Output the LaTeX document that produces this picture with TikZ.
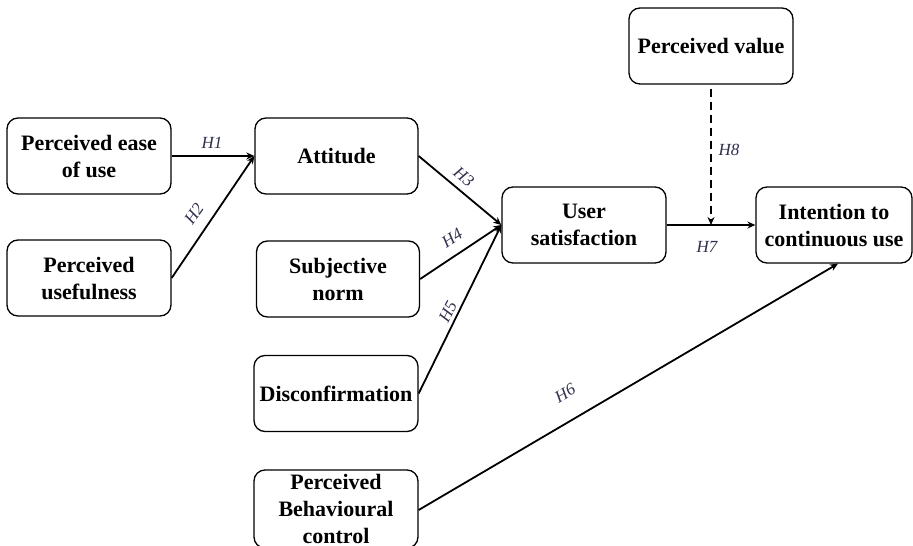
\documentclass[tikz,border=0pt]{standalone}
\usepackage{fontspec}
\setmainfont{Liberation Serif}
\usetikzlibrary{arrows.meta}
\definecolor{lab}{HTML}{2F2F4F}
\tikzset{
  box/.style={draw, line width=1.3pt, rounded corners=11pt, minimum width=164pt, minimum height=76pt,
    inner sep=0pt, align=center, font=\fontsize{22}{27}\selectfont\bfseries},
  conn/.style={line width=1.8pt, -{Stealth[length=8pt,width=7pt]}},
  hyp/.style={font=\fontsize{17}{20}\selectfont\itshape, text=lab, inner sep=0pt}
}
\begin{document}
\begin{tikzpicture}[x=1pt,y=-1pt]
\useasboundingbox (0,0) rectangle (913,546);
\node[box] (peou) at (89,156) {Perceived ease\\of use};
\node[box] (pu) at (89,278) {Perceived\\usefulness};
\node[box, minimum width=163pt] (att) at (336.5,156) {Attitude};
\node[box, minimum width=163pt] (sn) at (338,279) {Subjective\\norm};
\node[box] (dis) at (336,393.5) {Disconfirmation};
\node[box, minimum height=78pt] (pbc) at (336,509) {Perceived\\Behavioural\\control};
\node[box] (us) at (584,225) {User\\satisfaction};
\node[box] (pv) at (711,46) {Perceived value};
\node[box, minimum width=156pt] (itc) at (834,225) {Intention to\\continuous use};
\coordinate (mod) at (pv.south |- us.east);
\coordinate (itcin) at ([xshift=4pt]itc.south);
\draw[conn] (peou.east) -- (att.west);
\draw[conn] (pu.east) -- (att.west);
\draw[conn] (att.east) -- (us.west);
\draw[conn] (sn.east) -- (us.west);
\draw[conn] (dis.east) -- (us.west);
\draw[conn] ([yshift=-1pt]pbc.east) -- (itcin);
\draw[conn] (us.east) -- (itc.west);
\draw[conn, dash pattern=on 8pt off 5pt] ([yshift=-4pt]pv.south) -- (mod);
\node[hyp] (h1) at (212,143) {H1};
\node[hyp, rotate=55] (h2) at (194,214) {H2};
\node[hyp, rotate=-39] (h3) at (464,177) {H3};
\node[hyp, rotate=33] (h4) at (452,238) {H4};
\node[hyp, rotate=63] (h5) at (448,312) {H5};
\node[hyp, rotate=30] (h6) at (565,393) {H6};
\node[hyp] (h7) at (707,247) {H7};
\node[hyp] (h8) at (729,150) {H8};
\end{tikzpicture}
\end{document}
